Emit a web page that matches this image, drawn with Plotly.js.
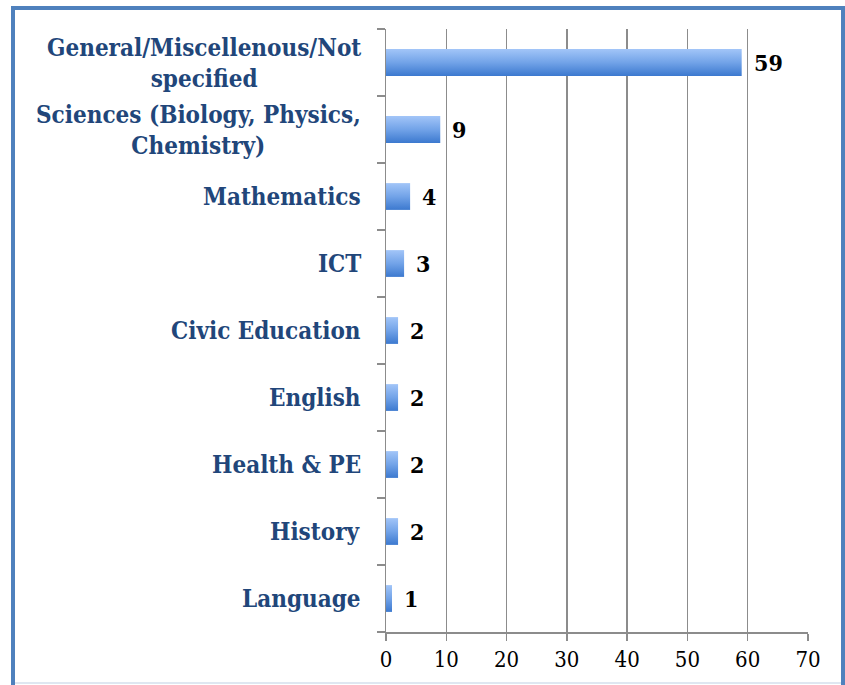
<!DOCTYPE html>
<html>
<head>
<meta charset="utf-8">
<script src="https://cdn.plot.ly/plotly-3.0.1.min.js"></script>
<style>html,body{margin:0;padding:0;background:#fff;}#chart{width:845px;height:685px;}</style>
</head>
<body>
<div id="chart"></div>
<script>
const categories = [
  "General/Miscellenous/Not<br>specified",
  "Sciences (Biology, Physics,<br>Chemistry)",
  "Mathematics",
  "ICT",
  "Civic Education",
  "English",
  "Health &amp; PE",
  "History",
  "Language"
];
const values = [59, 9, 4, 3, 2, 2, 2, 2, 1];
const xTicks = [0, 10, 20, 30, 40, 50, 60, 70];

const serif = "'DejaVu Serif Condensed', 'DejaVu Serif', 'Liberation Serif', serif";

const catAnnotations = categories.map((c, i) => ({
  x: 0, xref: 'paper', y: i, yref: 'y',
  text: c, showarrow: false, xanchor: 'right', yanchor: 'middle',
  align: 'center', xshift: -23,
  font: {family: serif, size: 24, color: '#21467a', weight: 'bold'}
}));
const valAnnotations = values.map((v, i) => ({
  x: v, xref: 'x', y: i, yref: 'y',
  text: '<b>' + v + '</b>', showarrow: false, xanchor: 'left', yanchor: 'middle',
  xshift: 10,
  font: {family: serif, size: 23, color: '#000'}
}));

const trace = {
  type: 'bar', orientation: 'h',
  x: values, y: categories.map((c, i) => i),
  width: 0.4,
  marker: {color: '#6a9de3', line: {width: 0}},
  hoverinfo: 'none'
};

const layout = {
  width: 845, height: 685,
  margin: {l: 386, r: 37, t: 29, b: 53},
  paper_bgcolor: '#fff', plot_bgcolor: '#fff',
  showlegend: false,
  xaxis: {
    range: [0, 70], tickvals: xTicks, ticktext: xTicks.map(String),
    showgrid: true, gridcolor: '#8c8c8c', gridwidth: 1.5,
    zeroline: false, showline: true, linecolor: '#8c8c8c', linewidth: 1.5,
    ticks: 'outside', ticklen: 7, tickcolor: '#8c8c8c', tickwidth: 1.5,
    tickfont: {family: serif, size: 22, color: '#000'}
  },
  yaxis: {
    type: 'linear', range: [8.5, -0.5],
    tickvals: [-0.5, 0.5, 1.5, 2.5, 3.5, 4.5, 5.5, 6.5, 7.5, 8.5],
    showticklabels: false, showgrid: false, zeroline: false,
    showline: true, linecolor: '#8c8c8c', linewidth: 1.5,
    ticks: 'outside', ticklen: 8, tickcolor: '#8c8c8c', tickwidth: 1.5
  },
  annotations: catAnnotations.concat(valAnnotations),
  shapes: [
    {type: 'rect', xref: 'paper', yref: 'paper',
     x0: (13 - 386) / 422, x1: (843 - 386) / 422,
     y0: (632 - 700) / 603, y1: (632 - 8) / 603,
     line: {color: '#4f81bd', width: 4}, fillcolor: 'rgba(0,0,0,0)', layer: 'below'},
    {type: 'line', xref: 'paper', yref: 'paper',
     x0: (15 - 386) / 422, x1: (841 - 386) / 422,
     y0: (632 - 683) / 603, y1: (632 - 683) / 603,
     line: {color: '#dfe7f1', width: 2}}
  ],
  bargap: 0.6
};

Plotly.newPlot('chart', [trace], layout, {staticPlot: true, displayModeBar: false}).then(gd => {
  const svg = gd.querySelector('svg.main-svg');
  const ns = 'http://www.w3.org/2000/svg';
  let defs = svg.querySelector('defs');
  if (!defs) { defs = document.createElementNS(ns, 'defs'); svg.insertBefore(defs, svg.firstChild); }
  const g = document.createElementNS(ns, 'linearGradient');
  g.setAttribute('id', 'barGrad');
  g.setAttribute('x1', '0'); g.setAttribute('y1', '0');
  g.setAttribute('x2', '0'); g.setAttribute('y2', '1');
  [['0', '#a2c5f8'], ['0.5', '#72a3e8'], ['1', '#3c79cf']].forEach(([o, c]) => {
    const s = document.createElementNS(ns, 'stop');
    s.setAttribute('offset', o); s.setAttribute('stop-color', c);
    g.appendChild(s);
  });
  defs.appendChild(g);
  gd.querySelectorAll('.trace.bars .point path').forEach(p => {
    p.style.fill = 'url(#barGrad)';
  });
});
</script>
</body>
</html>
